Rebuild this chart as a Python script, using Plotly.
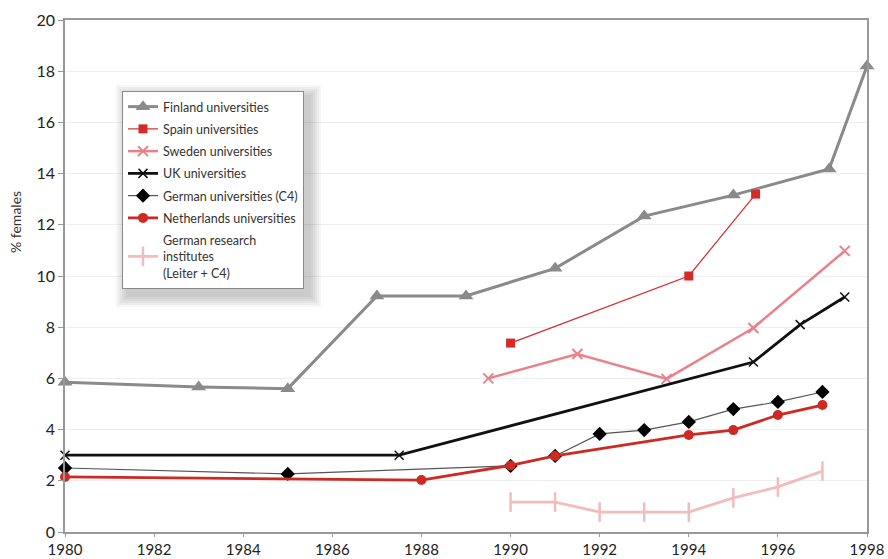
import plotly.graph_objects as go

# Share of women among full professors, by country / institution type
fin_years = [1980, 1983, 1985, 1987, 1989, 1991, 1993, 1995, 1997.15, 1998]
fin_vals = [5.85, 5.66, 5.6, 9.22, 9.22, 10.3, 12.34, 13.16, 14.18, 18.2]

esp_years = [1990, 1994, 1995.5]
esp_vals = [7.38, 10.0, 13.2]

swe_years = [1989.5, 1991.5, 1993.5, 1995.45, 1997.5]
swe_vals = [6.0, 6.95, 5.98, 7.97, 10.98]

uk_years = [1980, 1987.5, 1995.45, 1996.5, 1997.5]
uk_vals = [3.0, 3.0, 6.64, 8.1, 9.18]

dec4_years = [1980, 1985, 1990, 1991, 1992, 1993, 1994, 1995, 1996, 1997]
dec4_vals = [2.5, 2.27, 2.58, 2.97, 3.83, 3.98, 4.3, 4.8, 5.08, 5.47]

nl_years = [1980, 1988, 1990, 1991, 1994, 1995, 1996, 1997]
nl_vals = [2.15, 2.03, 2.6, 2.97, 3.79, 3.98, 4.57, 4.96]

deri_years = [1990, 1991, 1992, 1993, 1994, 1995, 1996, 1997]
deri_vals = [1.17, 1.17, 0.78, 0.78, 0.78, 1.33, 1.76, 2.38]

x_ticks = list(range(1980, 1999, 2))
y_ticks = list(range(0, 21, 2))

FONT = "Lato, 'Open Sans', sans-serif"

# plot area in pixels
L, R, T, B = 65, 21, 20, 27
PW, PH = 888 - L - R, 559 - T - B

fig = go.Figure()


def add(name, xs, ys, color, width, symbol, size, mline=0, mcolor=None):
    fig.add_trace(go.Scatter(
        x=xs, y=ys, name=name, legendgroup=name, mode="lines+markers",
        line=dict(color=color, width=width),
        marker=dict(symbol=symbol, size=size, color=mcolor or color,
                    line=dict(width=mline, color=mcolor or color)),
        cliponaxis=False,
    ))


add("Finland universities", fin_years, fin_vals, "#8a8a8a", 3, "triangle-up", 13)
add("Spain universities", esp_years, esp_vals, "#d42a2a", 1.2, "square", 9)
add("Sweden universities", swe_years, swe_vals, "#ea8088", 2.5, "x-thin", 10, 2)
add("UK universities", uk_years, uk_vals, "#111111", 2.8, "x-thin", 9, 1.5)
add("German universities (C4)", dec4_years, dec4_vals, "#555555", 1.2, "diamond", 11,
    0, "#000000")
add("Netherlands universities", nl_years, nl_vals, "#cc2a22", 2.8, "circle", 10)
add("German research<br>institutes<br>(Leiter + C4)", deri_years, deri_vals,
    "#f2bcbc", 2.8, "line-ns", 14, 2.5)

# soft drop shadow behind the legend box (stacked translucent rectangles)
LX0, LX1, LY0, LY1 = 122, 305, 91, 289
for d in range(12, 0, -2):
    fig.add_shape(type="rect", xref="paper", yref="paper",
                  x0=(LX0 - L + 6 - d) / PW, x1=(LX1 - L + 4 + d) / PW,
                  y0=(PH + T - (LY1 + 6 + d)) / PH, y1=(PH + T - (LY0 + 6 - d)) / PH,
                  line=dict(width=0), fillcolor="rgba(0,0,0,0.035)", layer="above")

fig.update_layout(
    width=888, height=559,
    margin=dict(l=L, r=R, t=T, b=B, autoexpand=False),
    paper_bgcolor="white", plot_bgcolor="white",
    font=dict(family=FONT, color="#222"),
    showlegend=True,
    legend=dict(
        x=(LX0 - L) / PW, y=(PH + T - LY0) / PH, xanchor="left", yanchor="top",
        bgcolor="white", bordercolor="#8a8a8a", borderwidth=1,
        font=dict(size=12.5, family=FONT, color="#333"),
        itemwidth=30, tracegroupgap=3, traceorder="grouped",
    ),
    xaxis=dict(
        range=[1980, 1998], tickvals=x_ticks, ticktext=[str(t) for t in x_ticks],
        showgrid=False, showline=True, linecolor="#999", linewidth=1.5,
        mirror=True, ticks="outside", ticklen=3, tickcolor="#999",
        tickfont=dict(size=15, family=FONT, color="#222"), zeroline=False,
        automargin=False,
    ),
    yaxis=dict(
        range=[0, 20], tickvals=y_ticks,
        showgrid=True, gridcolor="#efefef", gridwidth=1,
        showline=True, linecolor="#999", linewidth=1.5, mirror=True,
        ticks="outside", ticklen=5, tickcolor="#999",
        tickfont=dict(size=16, family=FONT, color="#222"), zeroline=False,
        automargin=False,
    ),
    annotations=[dict(
        text="% females", xref="paper", yref="paper",
        x=-50 / PW, y=(PH + T - 222) / PH, textangle=-90, showarrow=False,
        font=dict(size=14, family=FONT, color="#333"),
        xanchor="center", yanchor="middle",
    )],
)

fig.write_html("out.html")
